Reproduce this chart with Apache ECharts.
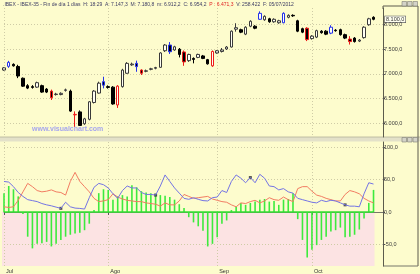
<!DOCTYPE html>
<html>
<head>
<meta charset="utf-8">
<script src="https://cdn.jsdelivr.net/npm/echarts@6/dist/echarts.min.js"></script>
<style>
html, body { margin: 0; padding: 0; background: #FDFCCD; }
#main { width: 420px; height: 274px; }
</style>
</head>
<body>
<div id="main"></div>
<script>
// sesiones jul-oct 2012
var days = [
  '02/07','03/07','04/07','05/07','06/07','09/07','10/07','11/07','12/07','13/07','16/07','17/07','18/07','19/07','20/07','23/07','24/07','25/07','26/07','27/07','30/07','31/07',
  '01/08','02/08','03/08','06/08','07/08','08/08','09/08','10/08','13/08','14/08','15/08','16/08','17/08','20/08','21/08','22/08','23/08','24/08','27/08','28/08','29/08','30/08','31/08',
  '03/09','04/09','05/09','06/09','07/09','10/09','11/09','12/09','13/09','14/09','17/09','18/09','19/09','20/09','21/09','24/09','25/09','26/09','27/09','28/09',
  '01/10','02/10','03/10','04/10','05/10','08/10','09/10','10/10','11/10','12/10','15/10','16/10','17/10','18/10'
];
var monthNames = { '07': 'Jul', '08': 'Ago', '09': 'Sep', '10': 'Oct' };

var opens = [7075,7150,7190,7147.3,6910,6760,6740,6730,6760,6690,
  6650,6580,6580,6665,6650,6170,6230,5990,6080,6420,
  6610,6840,6740,6730,6370,6740,7010,7180,7210,7075,
  7050,7090,7110,7130,7465,7580,7480,7495,7440,7265,
  7310,7330,7360,7285,7160,7420,7450,7500,7540,7900,
  7890,7800,7960,7960,8100,8090,8110,8050,8030,8030,
  8140,8180,8070,7910,7920,7710,7740,7860,7860,7820,
  7880,7890,7790,7700,7720,7660,7730,7990,8140];
var closes = [7120,7230,7160,6954.2,6750,6710,6725,6820,6630,6630,
  6515,6590,6605,6675,6246,6180,5956,6090,6434,6650,
  6810,6770,6725,6390,6750,7075,7210,7195,7145,7010,
  7060,7100,7125,7420,7580,7445,7545,7390,7240,7390,
  7290,7390,7310,7200,7450,7465,7480,7540,7860,7930,
  7840,7940,8060,7920,8220,8160,8050,8100,8070,8220,
  8180,8170,7860,7840,7690,7760,7870,7830,7800,7940,
  7870,7790,7720,7650,7650,7680,7940,8110,8100];
var lows = [7060,7120,7145,6912.2,6735,6690,6700,6715,6615,6610,
  6470,6560,6565,6640,6230,5930,5950,5970,6060,6400,
  6600,6705,6700,6375,6310,6720,7000,7160,7040,6975,
  7030,7070,7090,7120,7440,7400,7465,7330,7160,7240,
  7210,7315,7295,7185,7140,7405,7430,7480,7530,7850,
  7820,7780,7940,7900,8090,8070,8030,8030,8010,8020,
  8120,8150,7840,7820,7660,7690,7720,7810,7780,7800,
  7850,7770,7700,7590,7630,7640,7710,7970,8080];
var highs = [7135,7260,7210,7180.8,6925,6790,6770,6840,6780,6710,
  6680,6615,6625,6700,6680,6240,6260,6110,6450,6670,
  6840,6940,6765,6750,6770,7100,7235,7225,7265,7090,
  7085,7120,7140,7435,7600,7640,7565,7520,7470,7405,
  7330,7405,7380,7300,7470,7480,7520,7560,7875,8020,
  7910,7960,8080,7980,8260,8180,8130,8120,8090,8240,
  8200,8200,8090,7930,7940,7780,7890,7880,7880,7980,
  7900,7910,7810,7760,7740,7700,7960,8130,8160];
// velas marcadas
var blueIdx = [1, 21, 28, 35, 54, 59, 69];
var redIdx = [10, 15, 24, 29, 38, 44, 64, 73];

// oscilador inferior
var histo = [29,40,35,24,-3,-38,-56,-49,-48,-46,
  -53,-49,-43,-38,-35,-33,-32,-28,-18,3,
  29,35,34,19,24,26,24,41,38,32,
  30,29,28,26,25,23,19,12,6,-8,
  -16,-22,-29,-53,-49,-39,-18,-13,3,8,
  14,11,14,16,19,20,16,17,11,19,
  20,29,-11,-43,-70,-58,-51,-43,-38,-30,
  -28,-24,-39,-38,-35,-27,-10,14,34];
var lineBlue = [47,46,39,30,24,19,17.5,16,13,11,
  9.5,7.5,5.6,15,8,6,5.5,4.5,22,38,
  44,42,37,28,21,33,40,37,37,30,
  27,27,26,40,57,47,37,29,21,19.5,
  22,19.5,17.5,17,22,23,33,30,47,57,
  52,45,53,45,58,52,40,39,34,36,
  31,29,21,19,17,15,14,18,16,18,
  17,14,11,9,9,8,28,45,43];
var lineRed = [8,7,8,18,31,44,39,33,31,32,
  34,31,30,26,47,61,47,39,31,21,
  16,17,19,28,23,20,18,17,16,16,
  14,13,12,9,14,11,11,17,27,24,
  21,22,23,24,20,18,16,15,11,8,
  14,13,16,18,14,17,22,19,18,23,
  19,16,36,39,39,32,26,24,21,19,
  17,17,27,33,31,28,21,17,14];
var dotIdx = [12, 32, 52, 72];

var priceTicks = [6000, 6500, 7000, 7500, 8000];
var oscTicks = [-50, 0, 50, 100];
var priceMin = 5723, priceMax = 8328;
var oscMin = -83.1, oscMax = 107.7;

var FONT = 'Liberation Sans, Arial, sans-serif';
var BG = '#FDFCCD';

function fmt(v) {
  var p = Math.abs(v).toFixed(1).split('.');
  return (v < 0 ? '-' : '') + p[0].replace(/\B(?=(\d{3})+(?!\d))/g, '.') + ',' + p[1];
}
function isMonthStart(idx, val) {
  return !!val && (idx === 0 || days[idx - 1].slice(3) !== val.slice(3));
}

var cats = days.concat(['', '']);
var candles = days.map(function (d, i) {
  var it = { value: [opens[i], closes[i], lows[i], highs[i]] };
  var c = blueIdx.indexOf(i) >= 0 ? '#2632EA' : (redIdx.indexOf(i) >= 0 ? '#EE1A1A' : null);
  if (c) it.itemStyle = { borderColor: c, borderColor0: c };
  return it;
});
var last = days.length - 1;

var chart = echarts.init(document.getElementById('main'));
var dotted = { color: '#CFCCA6', type: [1, 2], width: 1 };

chart.setOption({
  backgroundColor: BG,
  animation: false,
  textStyle: { fontFamily: FONT },
  grid: [
    { left: 4, right: 37, top: 8, height: 129 },
    { left: 4, right: 37, top: 142, height: 124 }
  ],
  xAxis: [
    {
      type: 'category', gridIndex: 0, data: cats, boundaryGap: false,
      axisLine: { show: false }, axisTick: { show: false }, axisLabel: { show: false },
      splitLine: { show: true, interval: isMonthStart, lineStyle: dotted }
    },
    {
      type: 'category', gridIndex: 1, data: cats, boundaryGap: false,
      axisLine: { show: true, lineStyle: { color: '#77766a' } },
      axisTick: { show: true, interval: isMonthStart, length: 3, lineStyle: { color: '#555' } },
      axisLabel: {
        interval: isMonthStart, align: 'left', margin: 2, padding: [0, 0, 0, 2],
        fontSize: 5.5, color: '#333',
        formatter: function (v) { return monthNames[v.slice(3)] || ''; }
      },
      splitLine: { show: true, interval: isMonthStart, lineStyle: dotted }
    }
  ],
  yAxis: [
    {
      type: 'value', gridIndex: 0, position: 'right', min: priceMin, max: priceMax,
      axisLine: { show: true, lineStyle: { color: '#5c5b4c' } },
      axisTick: { show: true, customValues: priceTicks, length: 2, lineStyle: { color: '#555' } },
      axisLabel: { customValues: priceTicks, formatter: fmt, fontSize: 5.5, color: '#3a3a3a', margin: 1 },
      splitLine: { show: true, lineStyle: dotted }
    },
    {
      type: 'value', gridIndex: 1, position: 'right', min: oscMin, max: oscMax,
      axisLine: { show: true, lineStyle: { color: '#5c5b4c' } },
      axisTick: { show: true, customValues: oscTicks, length: 2, lineStyle: { color: '#555' } },
      axisLabel: { customValues: oscTicks, formatter: fmt, fontSize: 5.5, color: '#3a3a3a', margin: 1 },
      splitLine: { show: true, lineStyle: dotted }
    }
  ],
  series: [
    {
      type: 'candlestick', xAxisIndex: 0, yAxisIndex: 0, data: candles,
      barWidth: 3, clip: false,
      itemStyle: { color: '#FFFFF4', color0: '#000', borderColor: '#3a3a3a', borderColor0: '#000', borderWidth: 1 }
    },
    {
      type: 'bar', xAxisIndex: 1, yAxisIndex: 1, data: histo, barWidth: 1.6,
      itemStyle: { color: '#3DEA3D' },
      markLine: {
        silent: true, symbol: 'none', label: { show: false },
        lineStyle: { color: '#33E033', width: 1.5, type: 'solid' },
        data: [[{ coord: [0, 0] }, { coord: [last, 0] }]]
      }
    },
    {
      type: 'line', xAxisIndex: 1, yAxisIndex: 1, data: lineRed, symbol: 'none',
      lineStyle: { color: '#F27C62', width: 1 }
    },
    {
      type: 'line', xAxisIndex: 1, yAxisIndex: 1, data: lineBlue, symbol: 'none',
      lineStyle: { color: '#7474E4', width: 1 }
    },
    {
      type: 'scatter', xAxisIndex: 1, yAxisIndex: 1, symbol: 'rect', symbolSize: 3,
      itemStyle: { color: '#2a2a2a' },
      data: dotIdx.map(function (i) { return [i, lineBlue[i]]; })
    }
  ]
});

// cabecera, zona negativa, marcas y adornos de la ventana
var c = 3;
var title = '{a|.IBEX - IBEX-35 - Fin de día 1 días  H: 18:29  A: ' + fmt(opens[c]) + '  M: ' + fmt(highs[c]) +
  '  m: ' + fmt(lows[c]) + '  C: ' + fmt(closes[c]) + '}  {p|P : 6.471,3}  {a|V: 258.422  F: ' + days[c] + '/2012}';
var yLast = chart.convertToPixel({ yAxisIndex: 0 }, closes[last]);
var pA = chart.convertToPixel({ xAxisIndex: 1, yAxisIndex: 1 }, [0, oscMin]);
var pB = chart.convertToPixel({ xAxisIndex: 1, yAxisIndex: 1 }, [last, 0]);

function btns(y) {
  return [402, 407.5, 413].map(function (x) {
    return { type: 'rect', shape: { x: x, y: y, width: 4.5, height: 4.5 },
      style: { fill: '#D4D3C8', stroke: '#7c7c74', lineWidth: 0.6 } };
  });
}

chart.setOption({
  graphic: [
    { type: 'rect', z: -10, silent: true,
      shape: { x: pA[0] - 2, y: pB[1], width: pB[0] - pA[0] + 3, height: pA[1] - pB[1] },
      style: { fill: '#FCE3E3' } },
    { type: 'text', left: 3, top: 2, style: { text: title, font: '5px ' + FONT,
      rich: { a: { fill: '#3b3b63', fontSize: 5 }, p: { fill: '#E02222', fontSize: 5 } } } },
    { type: 'text', left: 32, top: 126, style: { text: 'www.visualchart.com', fill: '#A6A6EE',
      font: 'bold 7px ' + FONT } },
    { type: 'rect', shape: { x: 0, y: 137, width: 420, height: 4.5 },
      style: { fill: '#E3E1C9', stroke: null } },
    { type: 'line', shape: { x1: 0, y1: 137, x2: 420, y2: 137 }, style: { stroke: '#B3B19A', lineWidth: 0.8 } },
    { type: 'line', shape: { x1: 383, y1: 6, x2: 418, y2: 6 }, style: { stroke: '#5c5b4c', lineWidth: 1 } },
    { type: 'line', shape: { x1: 383, y1: 6, x2: 383, y2: 9 }, style: { stroke: '#5c5b4c', lineWidth: 1 } },
    { type: 'line', shape: { x1: 418, y1: 6, x2: 418, y2: 266 }, style: { stroke: '#5c5b4c', lineWidth: 1 } },
    { type: 'line', shape: { x1: 383, y1: 266, x2: 418, y2: 266 }, style: { stroke: '#77766a', lineWidth: 1 } },
    { type: 'text', x: 385, y: yLast, style: { text: fmt(closes[last]), font: '5.5px ' + FONT, fill: '#333',
      verticalAlign: 'middle', backgroundColor: '#FFFFF0', borderColor: '#555', borderWidth: 0.6, padding: [0, 1] } }
  ].concat(btns(1.5), btns(137.5))
});
</script>
</body>
</html>
